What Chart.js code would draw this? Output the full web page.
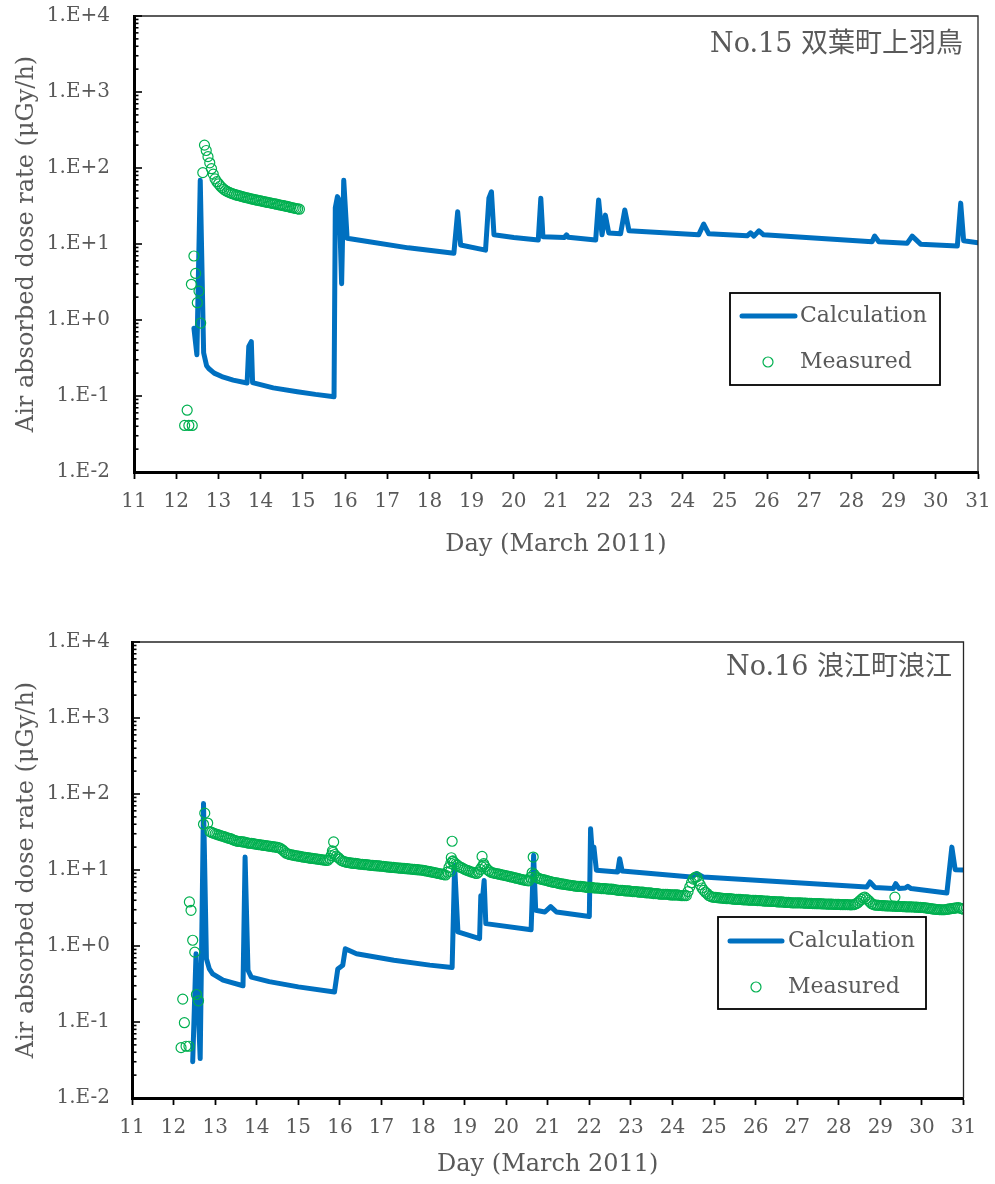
<!DOCTYPE html>
<html>
<head>
<meta charset="utf-8">
<script src="https://cdn.jsdelivr.net/npm/chart.js@4.4.1/dist/chart.umd.min.js"></script>
<style>
  html, body { margin: 0; padding: 0; background: #ffffff; }
  canvas { display: block; }
</style>
</head>
<body>
<canvas id="c15" width="995" height="592"></canvas>
<canvas id="c16" width="995" height="592"></canvas>
<script>
// ---- axes -------------------------------------------------------------
const dayTicks = [11, 12, 13, 14, 15, 16, 17, 18, 19, 20, 21, 22, 23, 24, 25, 26, 27, 28, 29, 30, 31];
const decadeTicks = [0.01, 0.1, 1, 10, 100, 1000, 10000];
const decadeLabels = ['1.E-2', '1.E-1', '1.E+0', '1.E+1', '1.E+2', '1.E+3', '1.E+4'];
const seriesLabels = ['Calculation', 'Measured'];
const xTitle = 'Day (March 2011)';
const yTitle = 'Air absorbed dose rate (μGy/h)';

// ---- No.15 双葉町上羽鳥 ----------------------------------------------
// calculated dose rate: [day of March, µGy/h]
const calc15 = [
  [12.42, 0.78], [12.49, 0.35], [12.57, 69], [12.65, 0.37], [12.72, 0.25], [12.77, 0.23],
  [12.9, 0.2], [13.08, 0.18], [13.35, 0.162], [13.68, 0.148], [13.72, 0.45], [13.78, 0.52],
  [13.81, 0.15], [14.3, 0.128], [14.87, 0.114], [15.3, 0.105], [15.74, 0.098], [15.77, 30],
  [15.82, 42], [15.86, 38], [15.92, 3.0], [15.97, 69], [16.05, 11.9], [16.5, 10.9],
  [17.5, 8.9], [18.58, 7.55], [18.67, 26.6], [18.74, 9.7], [19.33, 8.3], [19.41, 40],
  [19.47, 48.7], [19.53, 13.2], [20.0, 12.2], [20.58, 11.3], [20.64, 40], [20.69, 12.5],
  [21.2, 12.2], [21.25, 13.2], [21.29, 12.3], [21.94, 11.3], [22.01, 38], [22.09, 13.2],
  [22.17, 24], [22.25, 14], [22.53, 13.6], [22.63, 28], [22.73, 14.9], [23.24, 14.4],
  [24.38, 13.2], [24.5, 18.3], [24.62, 13.6], [25.53, 12.8], [25.61, 14], [25.69, 12.7],
  [25.81, 14.9], [25.92, 13.2], [28.49, 10.7], [28.55, 12.7], [28.65, 10.7], [29.32, 10.2],
  [29.44, 12.7], [29.64, 9.95], [30.51, 9.4], [30.59, 34.5], [30.66, 11], [31.0, 10.4]
];
// measured, irregular early readings: [day, µGy/h]
const meas15Early = [
  [12.2, 0.041], [12.26, 0.065], [12.3, 0.041], [12.38, 0.041], [12.36, 2.95], [12.42, 6.95],
  [12.46, 4.1], [12.5, 1.69], [12.54, 2.4], [12.58, 0.91], [12.63, 87]
];
// measured, hourly readings from 12.67
const meas15Start = 12.67;
const meas15StepHours = 1;
const meas15Values = [
  200, 170, 141, 117, 98, 83, 72, 66, 62, 58, 55, 52.5,
  50.5, 49, 47.8, 46.8, 45.8, 45, 44.2, 43.5, 43, 42.3, 41.7, 41.1,
  40.6, 40.1, 39.6, 39.1, 38.6, 38.1, 37.7, 37.3, 36.9, 36.4, 36.0, 35.6,
  35.2, 34.9, 34.5, 34.1, 33.7, 33.4, 33.0, 32.6, 32.3, 31.9, 31.5, 31.2,
  30.8, 30.4, 30.0, 29.7, 29.3, 29.0, 28.7
];

// ---- No.16 浪江町浪江 ------------------------------------------------
const calc16 = [
  [12.46, 0.030], [12.54, 0.79], [12.64, 0.033], [12.72, 75], [12.79, 0.68], [12.86, 0.5],
  [12.94, 0.43], [13.19, 0.355], [13.67, 0.3], [13.72, 14.8], [13.79, 0.48], [13.87, 0.39],
  [14.3, 0.34], [15.0, 0.29], [15.87, 0.248], [15.95, 0.5], [16.07, 0.56], [16.13, 0.92],
  [16.4, 0.79], [17.3, 0.65], [18.16, 0.56], [18.7, 0.52], [18.76, 11.5], [18.84, 1.53],
  [19.36, 1.25], [19.39, 4.6], [19.43, 4.2], [19.47, 7.3], [19.51, 1.97], [20.6, 1.64],
  [20.66, 15.6], [20.71, 2.95], [20.93, 2.8], [21.07, 3.3], [21.21, 2.8], [22.0, 2.45],
  [22.03, 35], [22.07, 17], [22.11, 20], [22.17, 9.9], [22.68, 9.4], [22.73, 14.1],
  [22.79, 9.7], [24.45, 8.1], [24.58, 9.0], [24.74, 8.1], [28.67, 5.97], [28.75, 6.95],
  [28.87, 5.9], [29.31, 5.7], [29.37, 6.6], [29.45, 5.7], [29.6, 5.8], [29.66, 6.1],
  [29.74, 5.7], [30.6, 4.98], [30.72, 20], [30.8, 10.1], [31.0, 10]
];
const meas16Early = [
  [12.18, 0.046], [12.22, 0.2], [12.26, 0.098], [12.3, 0.048], [12.37, 0.048], [12.38, 3.8],
  [12.42, 2.95], [12.46, 1.19], [12.51, 0.83], [12.55, 0.23], [12.6, 0.19], [12.72, 40],
  [12.75, 56], [12.82, 41.5]
];
const meas16Spikes = [
  [15.82, 17.8], [15.85, 23.4], [18.66, 9.6], [18.68, 14.5], [18.7, 23.9], [18.72, 13.2],
  [19.42, 15.1], [19.46, 12.1], [20.65, 14.8], [29.35, 4.4]
];
// measured, hourly readings from 12.875 (one row per day)
const meas16Start = 12.875;
const meas16StepHours = 1;
const meas16Values = [
  32, 31.2, 30.5, 29.9, 29.4, 28.9, 28.4, 28.0, 27.6, 27.0, 26.5, 26.1, 25.8, 25.2, 24.6, 24.2, 23.8, 23.7, 23.6, 23.4, 23.2, 22.9, 22.6, 22.5,
  22.4, 22.2, 22.0, 21.8, 21.6, 21.5, 21.3, 21.1, 21.0, 20.8, 20.6, 20.5, 20.3, 20.1, 20.0, 19.8, 19.6, 19.0, 18.3, 17.4, 16.6, 16.3, 16.0, 15.8,
  15.7, 15.5, 15.4, 15.2, 15.1, 14.9, 14.8, 14.7, 14.6, 14.4, 14.3, 14.2, 14.1, 14.0, 13.9, 13.8, 13.7, 13.6, 13.5, 13.4, 13.4, 14.2, 15.5, 17.0,
  16.0, 15.2, 14.6, 13.9, 13.3, 13.0, 12.8, 12.6, 12.5, 12.4, 12.3, 12.2, 12.2, 12.1, 12.0, 11.9, 11.9, 11.8, 11.8, 11.7, 11.6, 11.5, 11.5, 11.4,
  11.4, 11.3, 11.3, 11.2, 11.2, 11.1, 11.0, 10.9, 10.9, 10.8, 10.8, 10.7, 10.7, 10.6, 10.6, 10.5, 10.5, 10.4, 10.4, 10.3, 10.3, 10.2, 10.2, 10.1,
  10.1, 10.0, 10.0, 9.9, 9.8, 9.7, 9.6, 9.5, 9.4, 9.3, 9.2, 9.1, 9.0, 8.9, 8.8, 8.7, 8.6, 9.4, 10.8, 12.2, 13.0, 12.5, 12.0, 11.5,
  11.0, 10.8, 10.5, 10.2, 10.0, 9.8, 9.6, 9.4, 9.3, 9.1, 9.0, 9.4, 10.2, 11.0, 11.6, 11.0, 10.2, 9.8, 9.4, 9.2, 9.1, 9.0, 8.9, 8.8,
  8.7, 8.6, 8.5, 8.4, 8.3, 8.2, 8.1, 8.0, 7.9, 7.8, 7.7, 7.6, 7.5, 7.4, 7.3, 7.25, 7.2, 8.0, 9.2, 8.8, 8.2, 7.9, 7.7, 7.6,
  7.5, 7.4, 7.3, 7.2, 7.1, 7.0, 6.9, 6.85, 6.8, 6.7, 6.6, 6.55, 6.5, 6.45, 6.4, 6.35, 6.3, 6.25, 6.2, 6.15, 6.1, 6.1, 6.1, 6.05,
  6.0, 5.95, 5.9, 5.9, 5.9, 5.85, 5.8, 5.8, 5.8, 5.75, 5.7, 5.7, 5.7, 5.65, 5.6, 5.6, 5.6, 5.55, 5.5, 5.45, 5.4, 5.4, 5.4, 5.35,
  5.3, 5.3, 5.3, 5.25, 5.2, 5.2, 5.2, 5.15, 5.1, 5.1, 5.1, 5.05, 5.0, 5.0, 5.0, 4.95, 4.9, 4.9, 4.9, 4.85, 4.8, 4.8, 4.8, 4.8,
  4.8, 4.75, 4.7, 4.7, 4.7, 4.7, 4.7, 4.65, 4.6, 4.6, 4.6, 4.6, 5.2, 6.0, 6.8, 7.6, 8.0, 8.1, 7.2, 6.4, 5.8, 5.4, 5.1, 4.9,
  4.6, 4.5, 4.4, 4.38, 4.35, 4.32, 4.3, 4.28, 4.25, 4.22, 4.2, 4.2, 4.2, 4.18, 4.15, 4.12, 4.1, 4.1, 4.1, 4.08, 4.05, 4.05, 4.05, 4.02,
  4.0, 4.0, 4.0, 3.98, 3.95, 3.95, 3.95, 3.92, 3.9, 3.9, 3.9, 3.88, 3.85, 3.85, 3.85, 3.82, 3.8, 3.8, 3.8, 3.78, 3.75, 3.75, 3.75, 3.72,
  3.7, 3.7, 3.7, 3.7, 3.7, 3.69, 3.68, 3.67, 3.66, 3.65, 3.64, 3.63, 3.62, 3.61, 3.6, 3.6, 3.6, 3.59, 3.58, 3.57, 3.56, 3.56, 3.55, 3.55,
  3.54, 3.53, 3.52, 3.52, 3.51, 3.5, 3.5, 3.5, 3.5, 3.49, 3.48, 3.49, 3.5, 3.6, 3.7, 3.9, 4.1, 4.3, 4.4, 4.2, 4.0, 3.8, 3.6, 3.5,
  3.45, 3.44, 3.42, 3.41, 3.4, 3.39, 3.38, 3.37, 3.36, 3.36, 3.35, 3.34, 3.33, 3.33, 3.32, 3.31, 3.3, 3.29, 3.28, 3.28, 3.27, 3.27, 3.26, 3.25,
  3.24, 3.23, 3.22, 3.21, 3.2, 3.18, 3.15, 3.12, 3.1, 3.08, 3.05, 3.03, 3.02, 3.01, 3.0, 3.0, 3.0, 3.02, 3.05, 3.08, 3.1, 3.12, 3.15, 3.18,
  3.2, 3.15, 3.1, 3.05
];

// ---- styling ---------------------------------------------------------
const SERIF = "'DejaVu Serif', 'Noto Sans CJK JP', serif";
const TEXT = '#595959';
const BLUE = '#0070C0';
const GREEN = '#00B050';

// tick positions 1..9 x 10^k for the log axis
const logTickValues = [];
decadeTicks.forEach((d, k) => {
  if (k < decadeTicks.length - 1) {
    for (let m = 1; m < 10; m++) logTickValues.push(d * m);
  } else {
    logTickValues.push(d);
  }
});

const toPoints = list => list.map(([x, y]) => ({ x, y }));
const timed = (start, stepHours, values) => values.map((y, i) => ({ x: start + i * stepHours / 24, y }));

// keep the plot area where the layout padding puts it
const noLabelOverhang = s => {
  s.paddingLeft = 0; s.paddingRight = 0; s.paddingTop = 0; s.paddingBottom = 0;
};

// plot frame, inward log ticks, station name and legend
const frameAndLegend = {
  id: 'frameAndLegend',
  afterDraw(chart, args, o) {
    const { ctx, chartArea: a } = chart;
    const ys = chart.scales.y;
    ctx.save();
    ctx.strokeStyle = '#262626';
    ctx.lineWidth = 1.3;
    ctx.beginPath();
    ctx.moveTo(a.left, a.top);
    ctx.lineTo(a.right, a.top);
    ctx.lineTo(a.right, a.bottom);
    ctx.stroke();

    ctx.strokeStyle = '#000';
    ctx.lineWidth = 1.6;
    ys.ticks.forEach(t => {
      const py = ys.getPixelForValue(t.value);
      const len = decadeTicks.includes(t.value) ? 8 : 4.5;
      ctx.beginPath();
      ctx.moveTo(a.left, py);
      ctx.lineTo(a.left + len, py);
      ctx.stroke();
    });

    ctx.fillStyle = TEXT;
    ctx.font = `27px ${SERIF}`;
    ctx.textAlign = 'right';
    ctx.textBaseline = 'middle';
    ctx.fillText(o.station, o.stationX, o.stationY);

    const L = o.legend;
    const meas = chart.data.datasets[0];
    const calc = chart.data.datasets[1];
    ctx.fillStyle = '#fff';
    ctx.fillRect(L.x, L.y, L.w, L.h);
    ctx.strokeStyle = '#000';
    ctx.lineWidth = 1.8;
    ctx.strokeRect(L.x, L.y, L.w, L.h);
    ctx.strokeStyle = calc.borderColor;
    ctx.lineWidth = calc.borderWidth;
    ctx.lineCap = 'round';
    ctx.beginPath();
    ctx.moveTo(L.lineX0, L.row1);
    ctx.lineTo(L.lineX1, L.row1);
    ctx.stroke();
    ctx.strokeStyle = meas.borderColor;
    ctx.lineWidth = meas.borderWidth;
    ctx.beginPath();
    ctx.arc(L.dotX, L.row2, meas.pointRadius, 0, Math.PI * 2);
    ctx.stroke();
    ctx.fillStyle = TEXT;
    ctx.font = `22px ${SERIF}`;
    ctx.textAlign = 'left';
    ctx.fillText(calc.label, L.textX, L.row1);
    ctx.fillText(meas.label, L.textX, L.row2);
    ctx.restore();
  }
};

function drawStation(id, calc, measured, p) {
  new Chart(document.getElementById(id), {
    type: 'line',
    data: {
      datasets: [
        {
          label: seriesLabels[1],
          data: measured,
          showLine: false,
          pointStyle: 'circle',
          pointRadius: 5,
          pointHoverRadius: 5,
          borderWidth: 1.2,
          borderColor: GREEN,
          pointBorderColor: GREEN,
          pointBackgroundColor: 'rgba(0,0,0,0)',
          backgroundColor: 'rgba(0,0,0,0)',
          order: 0
        },
        {
          label: seriesLabels[0],
          data: calc,
          borderColor: BLUE,
          borderWidth: 5,
          pointRadius: 0,
          tension: 0,
          borderJoinStyle: 'round',
          borderCapStyle: 'round',
          fill: false,
          order: 1
        }
      ]
    },
    options: {
      responsive: false,
      animation: false,
      devicePixelRatio: 1,
      events: [],
      layout: { padding: p.padding },
      plugins: {
        legend: { display: false },
        tooltip: { enabled: false },
        frameAndLegend: p.decor
      },
      scales: {
        x: {
          type: 'linear',
          min: 11,
          max: 31,
          afterBuildTicks: s => { s.ticks = dayTicks.map(v => ({ value: v })); },
          afterFit: s => { s.height = p.xHeight; noLabelOverhang(s); },
          grid: { display: true, drawOnChartArea: false, drawTicks: true, tickLength: 7, tickColor: '#000', tickWidth: 1.8 },
          border: { display: true, color: '#000', width: 3 },
          ticks: { autoSkip: false, maxRotation: 0, padding: 11, color: TEXT, font: { family: SERIF, size: 20 } },
          title: { display: true, text: xTitle, color: TEXT, font: { family: SERIF, size: 24 }, padding: { top: 0, bottom: p.xTitlePad } }
        },
        y: {
          type: 'logarithmic',
          min: 0.01,
          max: 10000,
          afterBuildTicks: s => { s.ticks = logTickValues.map(v => ({ value: v })); },
          afterFit: s => { s.width = p.yWidth; noLabelOverhang(s); },
          grid: { display: true, drawOnChartArea: false, drawTicks: false },
          border: { display: true, color: '#000', width: 3 },
          ticks: {
            autoSkip: false,
            padding: p.yLabelPad,
            color: TEXT,
            font: { family: SERIF, size: 20 },
            callback: v => {
              const i = decadeTicks.indexOf(v);
              return i >= 0 ? decadeLabels[i] : '';
            }
          },
          title: { display: true, text: yTitle, color: TEXT, font: { family: SERIF, size: 24 }, padding: { top: 12, bottom: 0 } }
        }
      }
    },
    plugins: [frameAndLegend]
  });
}

drawStation('c15', toPoints(calc15),
  toPoints(meas15Early).concat(timed(meas15Start, meas15StepHours, meas15Values)),
  {
    padding: { left: 0, top: 16, right: 17, bottom: 0 },
    xHeight: 120, yWidth: 134, yLabelPad: 24, xTitlePad: 33,
    decor: {
      station: 'No.15 双葉町上羽鳥', stationX: 963, stationY: 45,
      legend: { x: 730, y: 293, w: 210, h: 92, row1: 316, row2: 362, lineX0: 742, lineX1: 795, dotX: 768, textX: 800 }
    }
  });

drawStation('c16', toPoints(calc16),
  toPoints(meas16Early).concat(toPoints(meas16Spikes), timed(meas16Start, meas16StepHours, meas16Values)),
  {
    padding: { left: 0, top: 50, right: 31.5, bottom: 0 },
    xHeight: 86, yWidth: 132, yLabelPad: 22, xTitlePad: 5,
    decor: {
      station: 'No.16 浪江町浪江', stationX: 952, stationY: 76,
      legend: { x: 718, y: 325, w: 208, h: 92, row1: 349, row2: 395, lineX0: 730, lineX1: 782, dotX: 756, textX: 788 }
    }
  });
</script>
</body>
</html>
